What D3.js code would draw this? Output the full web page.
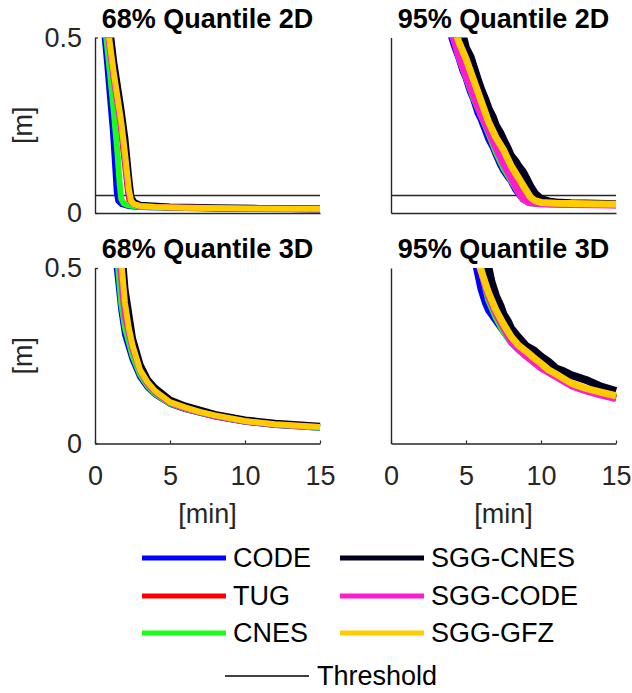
<!DOCTYPE html>
<html>
<head>
<meta charset="utf-8">
<script src="https://cdn.jsdelivr.net/npm/d3@7"></script>
<style>
  body { margin: 0; background: #fff; }
  svg { display: block; font-family: "Liberation Sans", Arial, sans-serif; }
</style>
</head>
<body>
<div id="chart-area"></div>
<script>
// series, in drawing order (last one on top)
var seriesNames = ['CODE', 'TUG', 'CNES', 'SGG-CNES', 'SGG-CODE', 'SGG-GFZ'];
var seriesColors = ['#0000ff', '#ff0000', '#1aff1a', '#00001e', '#ff1ccf', '#ffcc00'];

var xTicks = [0, 5, 10, 15];
var yTicks = [0, 0.5];
var threshold = 0.05;

// [minutes, metres]
var q68_2D = [
    [[0.6,0.52],[0.8,0.43],[1.0,0.33],[1.2,0.23],[1.35,0.13],[1.45,0.06],[1.55,0.035],[1.8,0.025],[2.2,0.02],[3,0.017],[5,0.015],[8,0.013],[11,0.012],[15,0.011]],
    [[0.8,0.52],[1.0,0.45],[1.25,0.37],[1.5,0.30],[1.75,0.23],[2.0,0.14],[2.2,0.06],[2.3,0.035],[2.5,0.025],[3,0.019],[5,0.016],[8,0.014],[11,0.012],[15,0.011]],
    [[0.7,0.52],[1.0,0.40],[1.25,0.29],[1.5,0.17],[1.65,0.08],[1.75,0.04],[1.9,0.028],[2.2,0.022],[3,0.018],[5,0.015],[8,0.013],[11,0.012],[15,0.011]],
    [[1.0,0.52],[1.25,0.43],[1.5,0.36],[1.75,0.29],[2.0,0.21],[2.25,0.10],[2.4,0.045],[2.6,0.03],[3,0.022],[5,0.017],[8,0.015],[11,0.013],[15,0.012]],
    [[0.85,0.52],[1.0,0.46],[1.25,0.38],[1.5,0.31],[1.75,0.24],[2.0,0.15],[2.2,0.07],[2.35,0.035],[2.6,0.025],[3,0.019],[5,0.016],[8,0.014],[11,0.012],[15,0.011]],
    [[0.9,0.52],[1.0,0.48],[1.25,0.40],[1.5,0.33],[1.75,0.26],[2.0,0.17],[2.25,0.07],[2.4,0.035],[2.6,0.025],[3,0.02],[4,0.017],[6,0.015],[10,0.013],[15,0.012]]
];

var q95_2D = [
    [[3.9,0.52],[4.2,0.48],[4.5,0.445],[4.8,0.405],[5,0.385],[5.3,0.345],[5.5,0.325],[5.8,0.285],[6,0.268],[6.3,0.235],[6.5,0.212],[6.8,0.188],[7,0.167],[7.3,0.138],[7.5,0.122],[7.8,0.103],[8,0.092],[8.3,0.068],[8.5,0.056],[8.8,0.04],[9.2,0.03],[10,0.027],[12,0.025],[15,0.024]],
    [[4.2,0.52],[4.5,0.47],[5,0.41],[5.5,0.355],[6,0.30],[6.5,0.245],[7,0.195],[7.5,0.155],[8,0.12],[8.5,0.085],[9,0.05],[9.3,0.035],[10,0.028],[12,0.026],[15,0.024]],
    [[4.1,0.52],[4.5,0.45],[5,0.39],[5.5,0.33],[6,0.28],[6.5,0.23],[7,0.175],[7.5,0.13],[8,0.095],[8.5,0.06],[8.8,0.04],[9.2,0.03],[10,0.027],[12,0.025],[15,0.024]],
    [[4.7,0.52],[5,0.47],[5.3,0.445],[5.5,0.418],[5.8,0.378],[6,0.353],[6.3,0.322],[6.5,0.298],[6.8,0.272],[7,0.248],[7.3,0.227],[7.5,0.208],[7.8,0.182],[8,0.163],[8.3,0.147],[8.5,0.133],[8.8,0.117],[9,0.10],[9.3,0.075],[9.6,0.055],[10,0.04],[10.5,0.033],[11,0.03],[12,0.028],[13,0.027],[15,0.025]],
    [[4.0,0.52],[4.5,0.45],[5,0.39],[5.5,0.335],[6,0.28],[6.5,0.235],[7,0.185],[7.5,0.14],[8,0.10],[8.5,0.06],[8.8,0.04],[9.2,0.03],[10,0.026],[12,0.024],[15,0.023]],
    [[4.3,0.52],[4.5,0.49],[5,0.44],[5.5,0.38],[6,0.32],[6.5,0.26],[7,0.215],[7.5,0.18],[8,0.135],[8.5,0.10],[9,0.065],[9.3,0.045],[9.6,0.035],[10,0.03],[11,0.028],[12,0.027],[13,0.026],[15,0.025]]
];

var q68_3D = [
    [[1.4,0.52],[1.75,0.38],[2,0.31],[2.5,0.24],[3,0.19],[3.5,0.16],[4,0.14],[5,0.113],[6,0.098],[8,0.077],[10,0.062],[12,0.053],[15,0.045]],
    [[1.6,0.52],[1.8,0.42],[2,0.35],[2.5,0.265],[3,0.205],[3.5,0.168],[4,0.145],[5,0.116],[6,0.1],[8,0.078],[10,0.063],[12,0.054],[15,0.046]],
    [[1.5,0.52],[1.75,0.40],[2,0.33],[2.5,0.25],[3,0.197],[3.5,0.164],[4,0.142],[5,0.114],[6,0.099],[8,0.078],[10,0.063],[12,0.054],[15,0.045]],
    [[1.85,0.52],[2,0.44],[2.5,0.30],[3,0.225],[3.5,0.182],[4,0.158],[5,0.124],[6,0.107],[8,0.083],[10,0.067],[12,0.058],[15,0.049]],
    [[1.65,0.52],[1.85,0.42],[2,0.36],[2.5,0.27],[3,0.207],[3.5,0.17],[4,0.146],[5,0.116],[6,0.1],[8,0.078],[10,0.063],[12,0.054],[15,0.046]],
    [[1.75,0.52],[2,0.40],[2.25,0.33],[2.5,0.28],[3,0.21],[3.5,0.175],[4,0.15],[5,0.118],[6,0.103],[7,0.09],[8,0.08],[10,0.064],[12,0.055],[15,0.047]]
];

var q95_3D = [
    [[5.6,0.52],[6,0.44],[6.3,0.40],[6.5,0.38],[7,0.35],[7.5,0.32],[8,0.29],[8.5,0.268],[9,0.25],[9.5,0.235],[10,0.22],[11,0.195],[12,0.17],[13,0.152],[14,0.14],[15,0.13]],
    [[5.9,0.52],[6.5,0.42],[7,0.375],[7.5,0.335],[8,0.298],[8.5,0.272],[9,0.255],[9.5,0.238],[10,0.222],[11,0.195],[12,0.17],[13,0.153],[14,0.141],[15,0.132]],
    [[5.9,0.52],[6.5,0.41],[7,0.36],[7.5,0.32],[8,0.29],[8.5,0.268],[9,0.25],[9.5,0.234],[10,0.218],[11,0.192],[12,0.168],[13,0.152],[14,0.14],[15,0.13]],
    [[6.4,0.52],[6.7,0.46],[7,0.42],[7.3,0.392],[7.5,0.368],[7.8,0.347],[8,0.328],[8.5,0.302],[9,0.278],[9.5,0.266],[10,0.248],[10.5,0.233],[11,0.214],[11.5,0.206],[12,0.195],[13,0.181],[14,0.162],[15,0.149]],
    [[5.8,0.52],[6.5,0.42],[7,0.37],[7.5,0.33],[8,0.29],[8.5,0.268],[9,0.25],[9.5,0.232],[10,0.215],[11,0.19],[12,0.165],[13,0.15],[14,0.138],[15,0.128]],
    [[5.8,0.52],[6.5,0.43],[7,0.38],[7.5,0.34],[8,0.305],[8.5,0.28],[9,0.263],[9.5,0.245],[10,0.228],[10.5,0.21],[11,0.198],[12,0.172],[13,0.157],[14,0.146],[15,0.136]]
];

var panels = [
    { title: '68% Quantile 2D', data: q68_2D, left: 95, top: 37.5, yLabels: true, xLabels: false, showThreshold: true, lw: 6 },
    { title: '95% Quantile 2D', data: q95_2D, left: 391, top: 37.5, yLabels: false, xLabels: false, showThreshold: true, lw: 7 },
    { title: '68% Quantile 3D', data: q68_3D, left: 95, top: 268, yLabels: true, xLabels: true, showThreshold: false, lw: 6 },
    { title: '95% Quantile 3D', data: q95_3D, left: 391, top: 268, yLabels: false, xLabels: true, showThreshold: false, lw: 7 }
];

var width = 225;
var height = 175.5;
var axisColor = '#262626';
var fontSize = 27;

var svg = d3.select('#chart-area')
    .append('svg')
    .attr('width', 632)
    .attr('height', 693);

var x = d3.scaleLinear().domain([0, 15]).range([0, width]);
var y = d3.scaleLinear().domain([0, 0.5]).range([height, 0]);

var line = d3.line()
    .x(d => x(d[0]))
    .y(d => y(d[1]));

panels.forEach((p, i) => {
    var g = svg.append('g')
        .attr('transform', 'translate(' + p.left + ',' + p.top + ')');

    svg.append('clipPath')
        .attr('id', 'clip' + i)
        .append('rect')
        .attr('x', p.left)
        .attr('y', p.top)
        .attr('width', width + 3)
        .attr('height', height);

    // threshold
    if (p.showThreshold) {
        g.append('line')
            .attr('x1', 0)
            .attr('x2', width)
            .attr('y1', y(threshold))
            .attr('y2', y(threshold))
            .attr('stroke', '#262626')
            .attr('stroke-width', 1.4);
    }

    // curves
    var lines = svg.append('g')
        .attr('clip-path', 'url(#clip' + i + ')')
        .append('g')
        .attr('transform', 'translate(' + p.left + ',' + p.top + ')');

    lines.selectAll('path')
        .data(p.data)
        .enter()
        .append('path')
        .attr('d', line)
        .attr('fill', 'none')
        .attr('stroke', (d, j) => seriesColors[j])
        .attr('stroke-width', (d, j) => j === 3 ? p.lw + 1 : p.lw)
        .attr('stroke-linejoin', 'round');

    // axes
    var xAxisCall = d3.axisBottom(x)
        .tickValues(p.xLabels ? xTicks : [])
        .tickSizeInner(-3)
        .tickSizeOuter(0)
        .tickPadding(22);
    var xAxisGroup = g.append('g')
        .attr('transform', 'translate(0,' + height + ')')
        .call(xAxisCall);

    var yAxisCall = d3.axisLeft(y)
        .tickValues(p.yLabels ? yTicks : [])
        .tickSizeInner(-3)
        .tickSizeOuter(0)
        .tickPadding(13)
        .tickFormat(d3.format(''));
    var yAxisGroup = g.append('g').call(yAxisCall);

    [xAxisGroup, yAxisGroup].forEach(a => {
        a.select('.domain').attr('stroke', axisColor).attr('stroke-width', 1.4);
        a.selectAll('.tick line').attr('stroke', axisColor).attr('stroke-width', 1.2);
        a.selectAll('.tick text')
            .attr('fill', axisColor)
            .attr('font-size', fontSize + 'px')
            .attr('font-family', '"Liberation Sans", Arial, sans-serif');
    });
    xAxisGroup.selectAll('.tick text').attr('dy', '0.71em');

    // title
    g.append('text')
        .attr('x', width / 2)
        .attr('y', -10)
        .attr('text-anchor', 'middle')
        .attr('font-size', '27px')
        .attr('font-weight', 'bold')
        .attr('fill', '#000')
        .text(p.title);

    if (p.yLabels) {
        g.append('text')
            .attr('transform', 'rotate(-90)')
            .attr('x', -height / 2)
            .attr('y', -63)
            .attr('text-anchor', 'middle')
            .attr('font-size', fontSize + 'px')
            .attr('fill', axisColor)
            .text('[m]');
    }
    if (p.xLabels) {
        g.append('text')
            .attr('x', width / 2)
            .attr('y', height + 79)
            .attr('text-anchor', 'middle')
            .attr('font-size', fontSize + 'px')
            .attr('fill', axisColor)
            .text('[min]');
    }
});

// legend
var legendCols = [142, 340];
var legendRows = [558, 596, 633];
var legend = svg.append('g');

seriesNames.forEach((name, i) => {
    var lx = legendCols[Math.floor(i / 3)];
    var ly = legendRows[i % 3];
    legend.append('line')
        .attr('x1', lx)
        .attr('x2', lx + 84)
        .attr('y1', ly)
        .attr('y2', ly)
        .attr('stroke', seriesColors[i])
        .attr('stroke-width', 5);
    legend.append('text')
        .attr('x', lx + 91)
        .attr('y', ly)
        .attr('dy', '0.35em')
        .attr('font-size', fontSize + 'px')
        .attr('fill', '#000')
        .text(name);
});

legend.append('line')
    .attr('x1', 225)
    .attr('x2', 309)
    .attr('y1', 676)
    .attr('y2', 676)
    .attr('stroke', '#000')
    .attr('stroke-width', 1.3);
legend.append('text')
    .attr('x', 317)
    .attr('y', 676)
    .attr('dy', '0.35em')
    .attr('font-size', fontSize + 'px')
    .attr('fill', '#000')
    .text('Threshold');
</script>
</body>
</html>
